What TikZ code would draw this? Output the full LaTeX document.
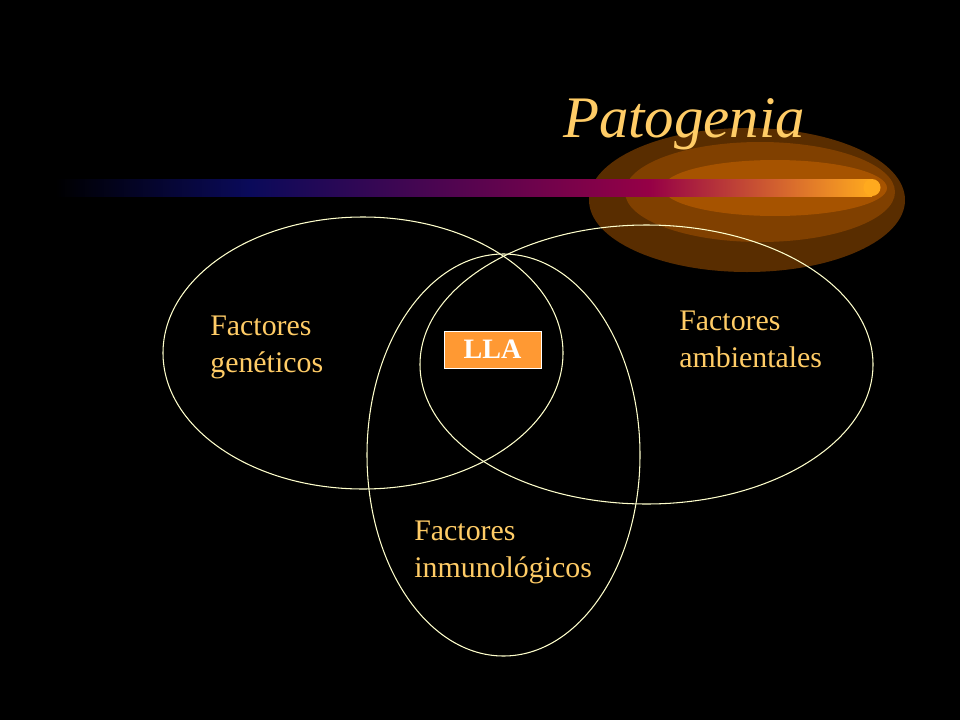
\documentclass[tikz,border=0pt]{standalone}
\usepackage{fontspec}
\setmainfont{Liberation Serif}
\usetikzlibrary{positioning}
\definecolor{ringcol}{RGB}{255,255,204}
\definecolor{labcol}{RGB}{255,204,102}
\definecolor{boxcol}{RGB}{255,153,51}
\definecolor{barblue}{RGB}{10,10,90}
\definecolor{barpink}{RGB}{150,0,70}
\definecolor{barorange}{RGB}{255,170,30}
\begin{document}
\begin{tikzpicture}[x=0.02cm,y=-0.02cm]
  \tikzset{ring/.style={draw=ringcol, line width=0.6pt},
           factor/.style={text=labcol, font=\fontsize{17}{21}\selectfont, align=left, anchor=north west, inner sep=0pt}}
  \fill[black] (0,0) rectangle (960,720);
  \useasboundingbox (0,0) rectangle (960,720);
  % glow behind the bar
  \fill[orange!35!black] (747,200) ellipse (158 and 72);
  \fill[orange!50!black] (760,192) ellipse (135 and 50);
  \fill[orange!65!black] (775,188) ellipse (112 and 28);
  % bar
  \shade[left color=black, right color=barblue] (55,179) rectangle (250,196);
  \shade[left color=barblue, right color=barpink] (250,179) rectangle (650,196);
  \shade[left color=barpink, right color=barorange] (650,179) rectangle (872,196);
  \fill[barorange] (872,187.5) circle (8.5);
  \node (title) [text=labcol, font=\fontsize{33.5}{38}\itshape\selectfont] at (684,124) {Patogenia};
  % circles
  \draw[ring] (363,353) ellipse (200 and 136);
  \draw[ring] (646.5,364.5) ellipse (226.5 and 139.5);
  \draw[ring] (503.5,455) ellipse (136.5 and 201);
  \node (gen) [factor] at (210,316) {Factores\\gen\'eticos};
  \node (amb) [factor] at (679,311) {Factores\\ambientales};
  \node (inm) [factor] at (414,521) {Factores\\inmunol\'ogicos};
  \node (lla) [draw=white, fill=boxcol, text=white, font=\fontsize{16}{20}\bfseries\selectfont,
    minimum width=97*0.02cm, minimum height=37*0.02cm, inner sep=0pt] at (492.5,349.5) {LLA};
\end{tikzpicture}
\end{document}
